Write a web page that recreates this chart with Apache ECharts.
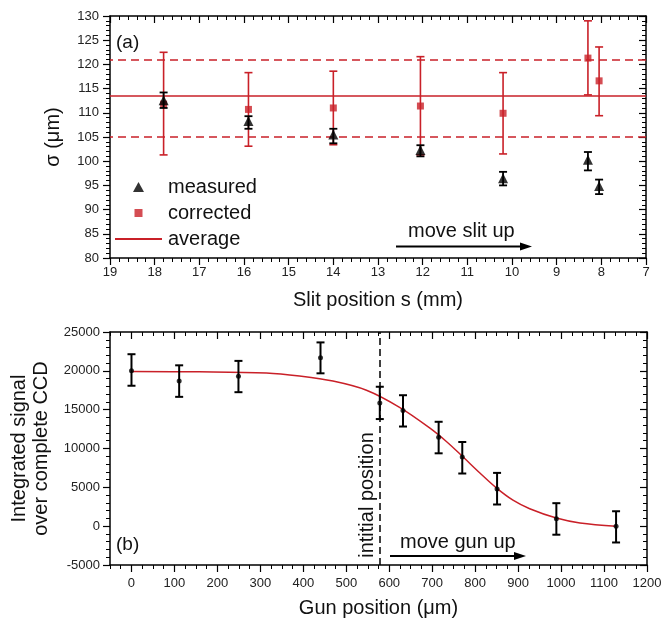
<!DOCTYPE html>
<html>
<head>
<meta charset="utf-8">
<script src="https://cdn.jsdelivr.net/npm/echarts@6/dist/echarts.min.js"></script>
<style>
html,body{margin:0;padding:0;background:#fff;}
#chart{width:672px;height:622px;}
</style>
</head>
<body>
<div id="chart"></div>
<script>
// ---------- Panel (a) data ----------
var slitPos      = [17.8, 15.9, 14.0, 12.05, 10.2, 8.3, 8.05];
var measured     = [112.6, 108.3, 105.5, 102.3, 96.5, 100.3, 94.9];
var measuredLo   = [111.0, 106.7, 103.7, 101.0, 95.0, 98.1, 93.2];
var measuredHi   = [114.2, 109.3, 106.7, 103.3, 97.8, 101.9, 96.2];
var corrected    = [111.8, 110.7, 111.0, 111.4, 109.9, 121.3, 116.6];
var correctedLo  = [101.3, 103.1, 103.4, 101.3, 101.5, 113.7, 109.4];
var correctedHi  = [122.5, 118.3, 118.6, 121.6, 118.3, 129.0, 123.6];
var averageVal   = 113.6;
var averageBand  = [105.1, 121.0];

// ---------- Panel (b) data ----------
var gunPos    = [0, 111, 249, 440, 578, 632, 715, 770, 851, 989, 1128];
var signal    = [20000, 18700, 19300, 21700, 15850, 14900, 11450, 8900, 4800, 950, 0];
var signalLo  = [18080, 16650, 17250, 19680, 13790, 12830, 9380, 6780, 2790, -1100, -2100];
var signalHi  = [22140, 20710, 21280, 23660, 17950, 16860, 13440, 10840, 6860, 2960, 1920];
var fitX      = [0, 158, 314, 391, 469, 547, 624, 694, 733, 772, 811, 850, 888, 927, 989, 1044, 1128];
var fitY      = [19900, 19870, 19720, 19330, 18680, 17500, 15300, 12650, 10900, 8900, 6850, 4900, 3350, 2250, 1050, 420, 0];
var initialPos = 578;
var gunTicks  = [0, 100, 200, 300, 400, 500, 600, 700, 800, 900, 1000, 1100, 1200];
var gunMinorTicks = [];
for (var t = -50; t <= 1200; t += 25) gunMinorTicks.push(t);

var RED = '#c92028';
var FONT = 'Liberation Sans, Arial, sans-serif';

function zip3(a, b, c) { return a.map(function (v, i) { return [v, b[i], c[i]]; }); }
function zip2(a, b) { return a.map(function (v, i) { return [v, b[i]]; }); }
function plain(v) { return String(v); }

function errRender(color, cap, lw) {
  return function (params, api) {
    var x = api.value(0);
    var p1 = api.coord([x, api.value(1)]);
    var p2 = api.coord([x, api.value(2)]);
    var st = { stroke: color, lineWidth: lw };
    return {
      type: 'group',
      children: [
        { type: 'line', shape: { x1: p1[0], y1: p1[1], x2: p2[0], y2: p2[1] }, style: st },
        { type: 'line', shape: { x1: p1[0] - cap, y1: p1[1], x2: p1[0] + cap, y2: p1[1] }, style: st },
        { type: 'line', shape: { x1: p2[0] - cap, y1: p2[1], x2: p2[0] + cap, y2: p2[1] }, style: st }
      ]
    };
  };
}

var axisLineStyle = { onZero: false, lineStyle: { color: '#000', width: 1.5 } };
var noLine = { show: false, onZero: false };
var labelStyle = { color: '#222', fontSize: 13, fontFamily: FONT, formatter: plain };
var legendText = { fontSize: 20, fontFamily: FONT, color: '#111', padding: [0, 0, 0, 19] };

var chart = echarts.init(document.getElementById('chart'));
var option = {
  animation: false,
  backgroundColor: '#fff',
  grid: [
    { left: 110, top: 16, width: 536, height: 242 },
    { left: 110, top: 332, width: 537, height: 233 }
  ],
  legend: [
    { left: 133, top: 177, padding: 0, itemWidth: 11, itemHeight: 10, textStyle: legendText,
      data: [{ name: 'measured', icon: 'triangle' }] },
    { left: 134.5, top: 203, padding: 0, itemWidth: 8, itemHeight: 8, textStyle: Object.assign({}, legendText, { padding: [0, 0, 0, 20.5] }),
      data: [{ name: 'corrected', icon: 'rect' }] },
    { left: 115, top: 229, padding: 0, itemWidth: 47, itemHeight: 2, textStyle: Object.assign({}, legendText, { padding: [0, 0, 0, 1] }),
      data: [{ name: 'average', icon: 'rect' }] }
  ],
  xAxis: [
    { // 0 panel a bottom
      type: 'value', gridIndex: 0, min: 7, max: 19, interval: 1, inverse: true,
      position: 'bottom',
      axisLine: axisLineStyle,
      axisTick: { length: 7, lineStyle: { color: '#000', width: 1.2 } },
      minorTick: { show: true, splitNumber: 5, length: 4, lineStyle: { color: '#000', width: 1 } },
      splitLine: { show: false },
      axisLabel: Object.assign({ margin: 8 }, labelStyle),
      name: 'Slit position s (mm)', nameLocation: 'middle', nameGap: 32,
      nameTextStyle: { fontSize: 20, fontFamily: FONT, color: '#111' }
    },
    { // 1 panel a top mirror
      type: 'value', gridIndex: 0, min: 7, max: 19, interval: 1, inverse: true,
      position: 'top',
      axisLine: axisLineStyle,
      axisTick: { inside: true, length: 7, lineStyle: { color: '#000', width: 1.2 } },
      minorTick: { show: true, splitNumber: 5, length: 4, lineStyle: { color: '#000', width: 1 } },
      splitLine: { show: false }, axisLabel: { show: false }
    },
    { // 2 panel b bottom
      type: 'value', gridIndex: 1, min: -50, max: 1200,
      position: 'bottom',
      axisLine: axisLineStyle,
      axisTick: { length: 7, customValues: gunTicks, lineStyle: { color: '#000', width: 1.2 } },
      splitLine: { show: false },
      axisLabel: Object.assign({ margin: 12, customValues: gunTicks }, labelStyle),
      name: 'Gun position (μm)', nameLocation: 'middle', nameGap: 33,
      nameTextStyle: { fontSize: 20, fontFamily: FONT, color: '#111' }
    },
    { // 3 panel b bottom minor
      type: 'value', gridIndex: 1, min: -50, max: 1200, position: 'bottom',
      axisLine: noLine,
      axisTick: { length: 4, customValues: gunMinorTicks, lineStyle: { color: '#000', width: 1 } },
      splitLine: { show: false }, axisLabel: { show: false }
    },
    { // 4 panel b top
      type: 'value', gridIndex: 1, min: -50, max: 1200, position: 'top',
      axisLine: axisLineStyle,
      axisTick: { inside: true, length: 7, customValues: gunTicks, lineStyle: { color: '#000', width: 1.2 } },
      splitLine: { show: false }, axisLabel: { show: false }
    },
    { // 5 panel b top minor
      type: 'value', gridIndex: 1, min: -50, max: 1200, position: 'top',
      axisLine: noLine,
      axisTick: { inside: true, length: 4, customValues: gunMinorTicks, lineStyle: { color: '#000', width: 1 } },
      splitLine: { show: false }, axisLabel: { show: false }
    }
  ],
  yAxis: [
    { // 0 panel a left
      type: 'value', gridIndex: 0, min: 80, max: 130, interval: 5, position: 'left',
      axisLine: axisLineStyle,
      axisTick: { length: 7, lineStyle: { color: '#000', width: 1.2 } },
      minorTick: { show: true, splitNumber: 5, length: 4, lineStyle: { color: '#000', width: 1 } },
      splitLine: { show: false },
      axisLabel: Object.assign({ margin: 11 }, labelStyle),
      name: 'σ (μm)', nameLocation: 'middle', nameGap: 47, nameRotate: 90,
      nameTextStyle: { fontSize: 20, fontFamily: FONT, color: '#111' }
    },
    { // 1 panel a right
      type: 'value', gridIndex: 0, min: 80, max: 130, interval: 5, position: 'right',
      axisLine: axisLineStyle,
      axisTick: { inside: true, length: 7, lineStyle: { color: '#000', width: 1.2 } },
      minorTick: { show: true, splitNumber: 5, length: 4, lineStyle: { color: '#000', width: 1 } },
      splitLine: { show: false }, axisLabel: { show: false }
    },
    { // 2 panel b left
      type: 'value', gridIndex: 1, min: -5000, max: 25000, interval: 5000, position: 'left',
      axisLine: axisLineStyle,
      axisTick: { length: 7, lineStyle: { color: '#000', width: 1.2 } },
      minorTick: { show: true, splitNumber: 5, length: 4, lineStyle: { color: '#000', width: 1 } },
      splitLine: { show: false },
      axisLabel: Object.assign({ margin: 10 }, labelStyle),
      name: 'Integrated signal\nover complete CCD', nameLocation: 'middle', nameGap: 56, nameRotate: 90,
      nameTextStyle: { fontSize: 20, lineHeight: 22, fontFamily: FONT, color: '#111' }
    },
    { // 3 panel b right
      type: 'value', gridIndex: 1, min: -5000, max: 25000, interval: 5000, position: 'right',
      axisLine: axisLineStyle,
      axisTick: { inside: true, length: 7, lineStyle: { color: '#000', width: 1.2 } },
      minorTick: { show: true, splitNumber: 5, length: 4, lineStyle: { color: '#000', width: 1 } },
      splitLine: { show: false }, axisLabel: { show: false }
    }
  ],
  series: [
    {
      name: 'average', type: 'line', xAxisIndex: 0, yAxisIndex: 0, data: [],
      symbol: 'none', color: RED, itemStyle: { color: RED }, lineStyle: { color: RED, width: 1.5 },
      markLine: {
        silent: true, symbol: 'none', label: { show: false },
        data: [
          { yAxis: averageVal, lineStyle: { color: RED, width: 1.5, type: 'solid' } },
          { yAxis: averageBand[0], lineStyle: { color: RED, width: 1.5, type: [8, 5] } },
          { yAxis: averageBand[1], lineStyle: { color: RED, width: 1.5, type: [8, 5] } }
        ]
      }
    },
    {
      name: 'corrected-err', type: 'custom', xAxisIndex: 0, yAxisIndex: 0,
      renderItem: errRender(RED, 4, 1.6), data: zip3(slitPos, correctedLo, correctedHi), z: 3
    },
    {
      name: 'corrected', type: 'scatter', xAxisIndex: 0, yAxisIndex: 0,
      symbol: 'rect', symbolSize: 7, color: RED, itemStyle: { color: RED },
      data: zip2(slitPos, corrected), z: 4
    },
    {
      name: 'measured-err', type: 'custom', xAxisIndex: 0, yAxisIndex: 0,
      renderItem: errRender('#000', 4, 1.8), data: zip3(slitPos, measuredLo, measuredHi), z: 5
    },
    {
      name: 'measured', type: 'scatter', xAxisIndex: 0, yAxisIndex: 0,
      symbol: 'triangle', symbolSize: 10, color: '#000', itemStyle: { color: '#000' },
      data: zip2(slitPos, measured), z: 6
    },
    {
      name: 'fit', type: 'line', xAxisIndex: 2, yAxisIndex: 2,
      data: zip2(fitX, fitY), smooth: 0.35, symbol: 'none',
      lineStyle: { color: RED, width: 1.5 }, z: 3,
      markLine: {
        silent: true, symbol: 'none', label: { show: false },
        data: [{ xAxis: initialPos, lineStyle: { color: '#000', width: 1.5, type: [7, 4] } }]
      }
    },
    {
      name: 'signal-err', type: 'custom', xAxisIndex: 2, yAxisIndex: 2,
      renderItem: errRender('#000', 4, 2), data: zip3(gunPos, signalLo, signalHi), z: 4
    },
    {
      name: 'signal', type: 'scatter', xAxisIndex: 2, yAxisIndex: 2,
      symbol: 'circle', symbolSize: 5, itemStyle: { color: '#000' },
      data: zip2(gunPos, signal), z: 5
    }
  ],
  graphic: [
    { type: 'text', x: 116, y: 43, style: { text: '(a)', fontSize: 19, fontFamily: FONT, fill: '#111', verticalAlign: 'middle' } },
    { type: 'text', x: 408, y: 231, style: { text: 'move slit up', fontSize: 20, fontFamily: FONT, fill: '#111', verticalAlign: 'middle' } },
    { type: 'line', shape: { x1: 396, y1: 246.5, x2: 522, y2: 246.5 }, style: { stroke: '#000', lineWidth: 2 } },
    { type: 'polygon', shape: { points: [[520, 242.5], [532, 246.5], [520, 250.5]] }, style: { fill: '#000' } },
    { type: 'text', x: 116, y: 545, style: { text: '(b)', fontSize: 19, fontFamily: FONT, fill: '#111', verticalAlign: 'middle' } },
    { type: 'text', x: 400, y: 542, style: { text: 'move gun up', fontSize: 20, fontFamily: FONT, fill: '#111', verticalAlign: 'middle' } },
    { type: 'line', shape: { x1: 390, y1: 556, x2: 516, y2: 556 }, style: { stroke: '#000', lineWidth: 2 } },
    { type: 'polygon', shape: { points: [[514, 552], [526, 556], [514, 560]] }, style: { fill: '#000' } },
    { type: 'text', x: 367, y: 495, rotation: Math.PI / 2, style: { text: 'intitial position', fontSize: 20, fontFamily: FONT, fill: '#111', align: 'center', verticalAlign: 'middle' } }
  ]
};
chart.setOption(option);
</script>
</body>
</html>
